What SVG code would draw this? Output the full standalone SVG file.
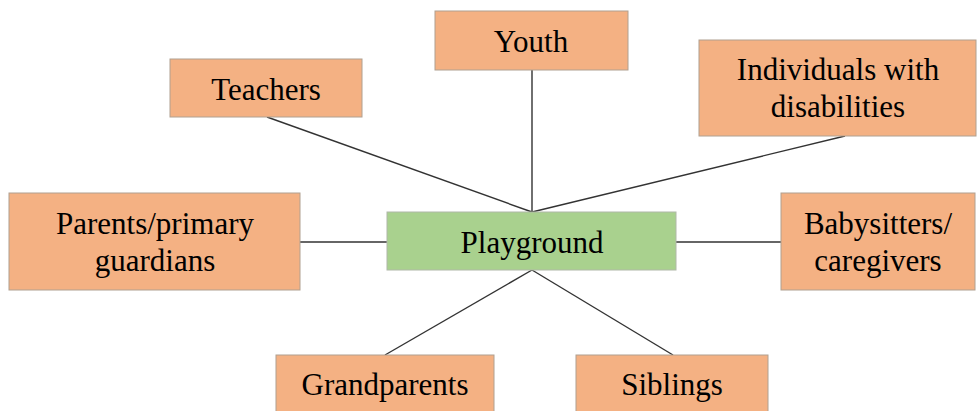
<svg xmlns="http://www.w3.org/2000/svg" width="977" height="411" viewBox="0 0 977 411">
<style>
.box{fill:#F4B183;stroke:#B0A090;stroke-width:1}
.center{fill:#A9D18E;stroke:#B0B8A8;stroke-width:1}
text{font-family:'Liberation Serif','Times New Roman',serif;font-size:31px;fill:#000;text-anchor:middle}
.conn line{stroke:#333;stroke-width:1.4}
</style>
<rect width="977" height="411" fill="#fff"/>
<g class="conn" id="connectors">
<line x1="532" y1="70" x2="532" y2="212"/>
<line x1="267" y1="117" x2="532" y2="212"/>
<line x1="845" y1="136" x2="532" y2="212"/>
<line x1="300" y1="242" x2="387" y2="242"/>
<line x1="676" y1="242" x2="781" y2="242"/>
<line x1="532" y1="270" x2="385" y2="355"/>
<line x1="532" y1="270" x2="673" y2="355"/>
</g>
<g id="youth"><rect class="box" x="435" y="11" width="193" height="59"/><text x="531" y="52">Youth</text></g>
<g id="teachers"><rect class="box" x="170" y="59" width="192" height="58"/><text x="266" y="100">Teachers</text></g>
<g id="individuals"><rect class="box" x="699" y="40" width="277" height="96"/><text x="838" y="80">Individuals with</text><text x="838" y="117">disabilities</text></g>
<g id="parents"><rect class="box" x="9" y="193" width="291" height="97"/><text x="155" y="234">Parents/primary</text><text x="155" y="271">guardians</text></g>
<g id="playground"><rect class="center" x="387" y="212" width="289" height="58"/><text x="532" y="253">Playground</text></g>
<g id="babysitters"><rect class="box" x="781" y="193" width="194" height="97"/><text x="878" y="234">Babysitters/</text><text x="878" y="271">caregivers</text></g>
<g id="grandparents"><rect class="box" x="276" y="355" width="218" height="60"/><text x="385" y="395">Grandparents</text></g>
<g id="siblings"><rect class="box" x="576" y="355" width="192" height="60"/><text x="672" y="395">Siblings</text></g>
</svg>
